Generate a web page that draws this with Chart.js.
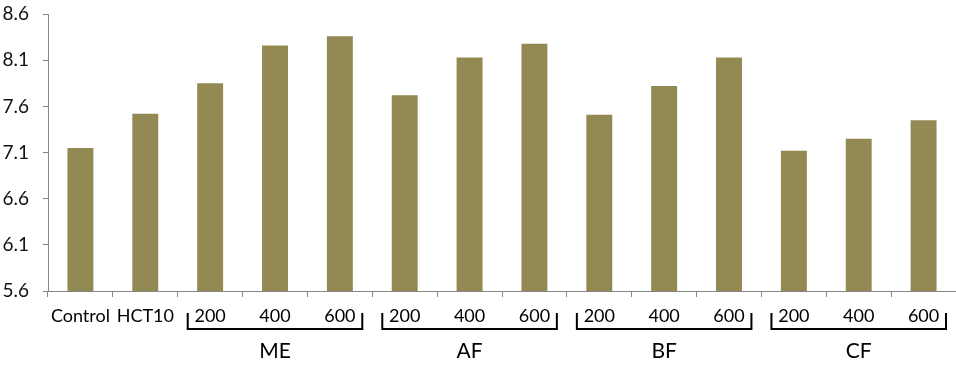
<!DOCTYPE html>
<html lang="en">
  <head>
    <meta charset="UTF-8" />
    <script src="https://cdn.jsdelivr.net/npm/chart.js"></script>
    <title>Bars</title>
    <style>
      html, body { margin: 0; padding: 0; background: #fff; overflow: hidden; }
      #wrap { width: 956px; height: 365px; }
    </style>
  </head>
  <body>
    <div id="wrap"><canvas id="myChart"></canvas></div>
    <script>
      // data
      const labels = ["Control", "HCT10", "200", "400", "600", "200", "400", "600", "200", "400", "600", "200", "400", "600"];
      const values = [7.15, 7.52, 7.85, 8.26, 8.36, 7.72, 8.13, 8.28, 7.51, 7.82, 8.13, 7.12, 7.25, 7.45];
      const yTicks = [5.6, 6.1, 6.6, 7.1, 7.6, 8.1, 8.6];
      const groupNames = ["ME", "AF", "BF", "CF"];
      const groupStart = [2, 5, 8, 11];
      const groupEnd = [4, 7, 10, 13];

      const axisGray = "#868686";
      const font = "Lato";

      // brackets + group names under the dose labels
      const brackets = {
        id: "brackets",
        afterDraw(chart) {
          const ctx = chart.ctx;
          const x = chart.scales.x;
          const base = chart.chartArea.bottom;
          const half = (x.getPixelForValue(1) - x.getPixelForValue(0)) / 2;
          ctx.save();
          ctx.strokeStyle = "#000";
          ctx.lineWidth = 2;
          ctx.fillStyle = "#000";
          ctx.font = "21px " + font;
          ctx.textAlign = "center";
          ctx.textBaseline = "middle";
          groupNames.forEach((name, i) => {
            const l = x.getPixelForValue(groupStart[i]) - half + 10;
            const r = x.getPixelForValue(groupEnd[i]) + half - 10;
            ctx.beginPath();
            ctx.moveTo(l, base + 22);
            ctx.lineTo(l, base + 38);
            ctx.lineTo(r, base + 38);
            ctx.lineTo(r, base + 22);
            ctx.stroke();
            const mid = (groupStart[i] + groupEnd[i]) / 2;
            ctx.fillText(name, x.getPixelForValue(mid), base + 60);
          });
          ctx.restore();
        }
      };

      new Chart(document.getElementById("myChart"), {
        type: "bar",
        data: {
          labels: labels,
          datasets: [
            {
              data: values,
              backgroundColor: "#938953",
              categoryPercentage: 1,
              barPercentage: 0.4,
            },
          ],
        },
        options: {
          responsive: true,
          maintainAspectRatio: false,
          animation: false,
          layout: { padding: 0 },
          plugins: { legend: { display: false }, tooltip: { enabled: false } },
          scales: {
            x: {
              grid: { drawOnChartArea: false, color: axisGray, tickLength: 6, offset: true },
              border: { color: axisGray, width: 1 },
              ticks: { color: "#000", font: { family: font, size: 18 }, padding: 8, maxRotation: 0, autoSkip: false },
              afterFit(scale) { scale.height = 74; },
            },
            y: {
              min: 5.6,
              max: 8.6,
              grid: { drawOnChartArea: false, color: axisGray, tickLength: 5 },
              border: { color: axisGray, width: 1 },
              ticks: {
                color: "#111",
                // tiny lineHeight so the top gap is just the tick padding
                font: { family: font, size: 19, lineHeight: 0.01 },
                padding: 14,
                callback: (v) => Number(v).toFixed(1),
              },
              afterBuildTicks(scale) { scale.ticks = yTicks.map((v) => ({ value: v })); },
              afterFit(scale) { scale.width = 48; },
            },
          },
        },
        plugins: [brackets],
      });
    </script>
  </body>
</html>
